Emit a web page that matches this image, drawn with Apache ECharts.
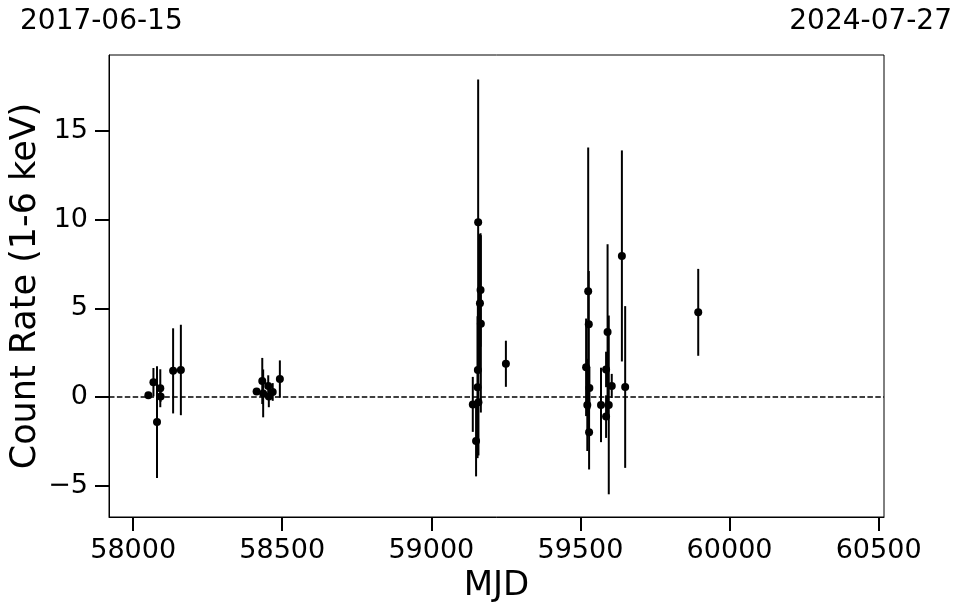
<!DOCTYPE html>
<html>
<head>
<meta charset="utf-8">
<script src="https://cdn.jsdelivr.net/npm/echarts@6/dist/echarts.min.js"></script>
<style>
html,body{margin:0;padding:0;background:#fff;}
#chart{width:962px;height:613px;}
</style>
</head>
<body>
<div id="chart"></div>
<script>
// Observation dates (MJD), count rates and 1-sigma errors
const mjd  = [58051, 58068, 58080, 58091, 58092, 58134, 58160,
              58414, 58433, 58436, 58453, 58455, 58468, 58492,
              59139, 59150, 59155, 59156, 59157, 59158, 59163, 59165, 59166,
              59250,
              59519, 59523, 59526, 59528, 59530, 59529, 59569, 59586, 59586, 59591, 59595, 59605, 59639, 59650,
              59895];
const rate = [0.10, 0.83, -1.42, 0.49, 0.03, 1.47, 1.52,
              0.30, 0.90, 0.20, 0.62, 0.02, 0.28, 1.01,
              -0.42, -2.48, 0.55, 1.52, 9.85, -0.30, 5.28, 6.03, 4.12,
              1.87,
              1.67, -0.45, 5.96, 4.10, 0.51, -1.99, -0.45, 1.55, -1.11, 3.66, -0.45, 0.62, 7.95, 0.56,
              4.77];
const err  = [0.15, 0.80, 3.15, 1.07, 0.30, 2.40, 2.55,
              0.10, 1.30, 1.35, 0.60, 0.60, 0.50, 1.05,
              1.55, 2.00, 4.00, 3.90, 8.05, 3.00, 3.90, 3.20, 5.00,
              1.30,
              2.75, 2.60, 8.10, 3.00, 1.20, 2.10, 2.10, 1.00, 1.20, 4.95, 5.04, 0.68, 5.95, 4.56,
              2.45];
const xTicks = [58000, 58500, 59000, 59500, 60000, 60500];
const yTicks = [-5, 0, 5, 10, 15];
const xMin = 57919, xMax = 60518;   // 2017-06-15 .. 2024-07-27
const yMin = -6.77, yMax = 19.28;
const dateLeft = '2017-06-15', dateRight = '2024-07-27';

const pts = mjd.map((m, i) => [m, rate[i]]);
const bars = mjd.map((m, i) => [m, rate[i] - err[i], rate[i] + err[i]]);

const FONT = 'DejaVu Sans';
const chart = echarts.init(document.getElementById('chart'), null, {renderer: 'canvas'});
chart.setOption({
  animation: false,
  backgroundColor: '#fff',
  grid: {left: 109, right: 78, top: 55, bottom: 96, show: true, borderColor: '#000', borderWidth: 1,
         backgroundColor: 'transparent', containLabel: false, outerBoundsMode: 'none'},
  graphic: [
    {type: 'text', left: 20, top: 8, style: {text: dateLeft, font: '28px "DejaVu Sans"', fill: '#000'}},
    {type: 'text', right: 10, top: 8, style: {text: dateRight, font: '28px "DejaVu Sans"', fill: '#000'}}
  ],
  xAxis: {
    type: 'value', min: xMin, max: xMax,
    name: 'MJD', nameLocation: 'middle', nameGap: 52, nameMoveOverlap: false,
    nameTextStyle: {fontFamily: FONT, fontSize: 34, color: '#000'},
    axisLine: {show: true, onZero: false, lineStyle: {color: '#000', width: 1}},
    axisTick: {show: true, customValues: xTicks, length: 14, lineStyle: {color: '#000', width: 2}},
    axisLabel: {customValues: xTicks, margin: 20, fontFamily: FONT, fontSize: 27, color: '#000',
      formatter: v => String(v)},
    splitLine: {show: false}
  },
  yAxis: {
    type: 'value', min: yMin, max: yMax,
    name: 'Count Rate (1-6 keV)', nameLocation: 'middle', nameGap: 66, nameRotate: 90, nameMoveOverlap: false,
    nameTextStyle: {fontFamily: FONT, fontSize: 35, color: '#000'},
    axisLine: {show: true, onZero: false, lineStyle: {color: '#000', width: 1}},
    axisTick: {show: true, customValues: yTicks, length: 14, lineStyle: {color: '#000', width: 2}},
    axisLabel: {customValues: yTicks, margin: 21, fontFamily: FONT, fontSize: 27, color: '#000',
      formatter: v => (v < 0 ? '\u2212' + Math.abs(v) : String(v))},
    splitLine: {show: false}
  },
  series: [
    {
      type: 'custom',
      data: bars,
      z: 2,
      renderItem: function (params, api) {
        const x = api.value(0);
        const p1 = api.coord([x, api.value(1)]);
        const p2 = api.coord([x, api.value(2)]);
        return {type: 'line', shape: {x1: p1[0], y1: p1[1], x2: p2[0], y2: p2[1]},
                style: {stroke: '#000', lineWidth: 2}};
      },
      encode: {x: 0, y: [1, 2]},
      clip: true
    },
    {
      type: 'scatter',
      data: pts,
      symbol: 'circle',
      symbolSize: 8,
      z: 3,
      itemStyle: {color: '#000', opacity: 1},
      markLine: {
        silent: true, symbol: 'none', label: {show: false},
        lineStyle: {color: '#000', type: [5.5, 2.4], width: 1.5, opacity: 1},
        data: [{yAxis: 0}]
      }
    }
  ]
});
</script>
</body>
</html>
